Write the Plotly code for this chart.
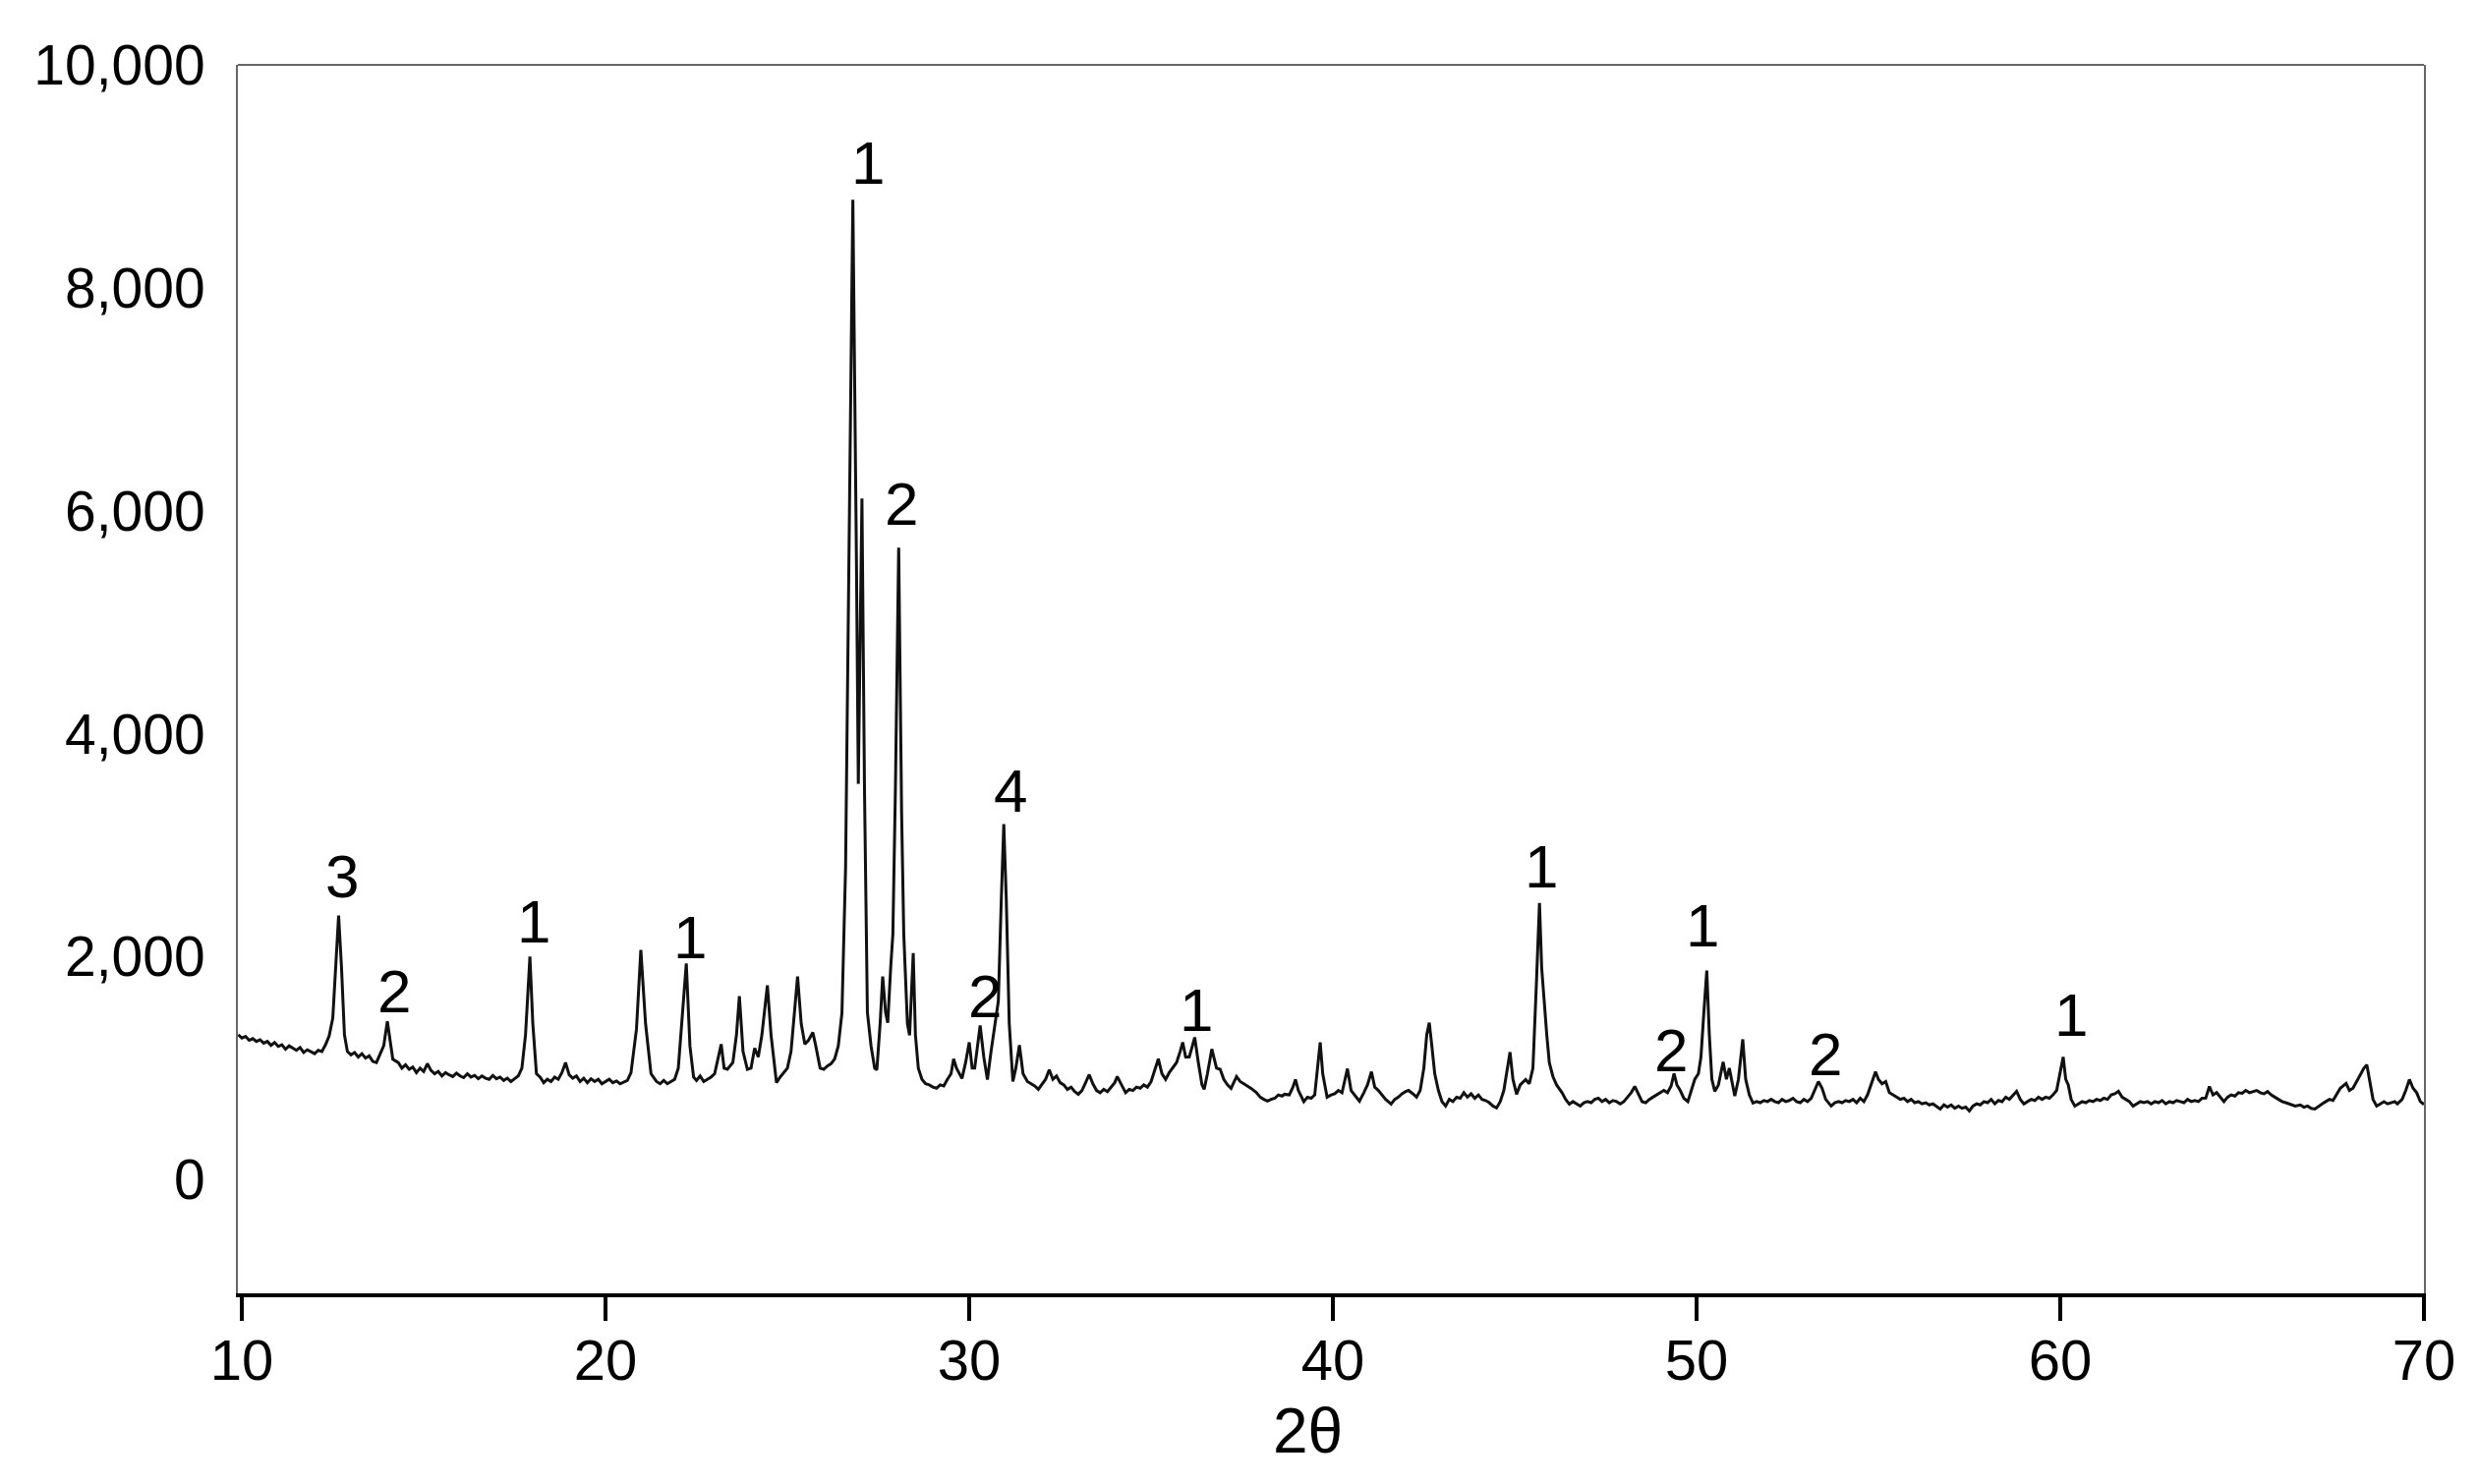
import plotly.graph_objects as go

# XRD pattern, [2theta, counts] pairs, split by range
seg_10_20 = [
    [9.9, 1300], [10.0, 1270], [10.1, 1285], [10.2, 1250], [10.3, 1265], [10.4, 1240],
    [10.5, 1255], [10.6, 1225], [10.7, 1240], [10.8, 1205], [10.9, 1230], [11.0, 1195],
    [11.1, 1210], [11.2, 1170], [11.3, 1200], [11.4, 1180], [11.5, 1160], [11.6, 1185],
    [11.7, 1140], [11.8, 1165], [11.9, 1150], [12.0, 1130], [12.1, 1160], [12.2, 1150],
    [12.3, 1210], [12.4, 1290], [12.5, 1450], [12.58, 1900], [12.66, 2370], [12.74, 1900],
    [12.82, 1300], [12.9, 1150], [13.0, 1120], [13.1, 1140], [13.2, 1100], [13.3, 1130],
    [13.4, 1090], [13.5, 1110], [13.6, 1060], [13.7, 1050], [13.8, 1120], [13.9, 1200],
    [14.0, 1420], [14.08, 1250], [14.15, 1080], [14.3, 1050], [14.4, 1000], [14.5, 1030],
    [14.6, 990], [14.7, 1010], [14.8, 960], [14.9, 1000], [15.0, 970], [15.1, 1040],
    [15.2, 980], [15.3, 950], [15.4, 970], [15.5, 930], [15.6, 960], [15.7, 940],
    [15.8, 925], [15.9, 955], [16.0, 930], [16.1, 915], [16.2, 950], [16.3, 920],
    [16.4, 935], [16.5, 905], [16.6, 930], [16.7, 910], [16.8, 900], [16.9, 935],
    [17.0, 905], [17.1, 920], [17.2, 890], [17.3, 910], [17.4, 880], [17.5, 905],
    [17.6, 930], [17.7, 1000], [17.8, 1300], [17.92, 2000], [18.0, 1400], [18.1, 950],
    [18.2, 920], [18.3, 870], [18.4, 900], [18.5, 880], [18.6, 920], [18.7, 900],
    [18.8, 960], [18.9, 1050], [19.0, 940], [19.1, 910], [19.2, 930], [19.3, 880],
    [19.4, 910], [19.5, 870], [19.6, 905], [19.7, 880], [19.8, 900], [19.9, 860],
]
seg_20_30 = [
    [20.0, 880], [20.1, 900], [20.2, 870], [20.3, 885], [20.4, 860], [20.5, 875],
    [20.6, 890], [20.7, 960], [20.85, 1350], [20.97, 2060], [21.1, 1400], [21.25, 950],
    [21.4, 880], [21.5, 860], [21.6, 890], [21.7, 860], [21.8, 880], [21.9, 900],
    [22.0, 1000], [22.1, 1400], [22.22, 1940], [22.32, 1200], [22.42, 920], [22.5, 890],
    [22.6, 930], [22.7, 880], [22.8, 900], [22.9, 920], [23.0, 950], [23.1, 1100],
    [23.18, 1215], [23.26, 1000], [23.35, 990], [23.5, 1050], [23.6, 1300], [23.68, 1646],
    [23.78, 1150], [23.9, 990], [24.0, 1000], [24.1, 1180], [24.2, 1100], [24.3, 1300],
    [24.45, 1743], [24.55, 1300], [24.7, 870], [24.8, 920], [24.9, 960], [25.0, 1000],
    [25.1, 1150], [25.2, 1500], [25.28, 1822], [25.38, 1400], [25.48, 1215], [25.58, 1250],
    [25.7, 1320], [25.78, 1200], [25.9, 1000], [26.0, 990], [26.1, 1020], [26.2, 1040],
    [26.3, 1083], [26.4, 1200], [26.5, 1496], [26.6, 2800], [26.7, 6000], [26.8, 8790],
    [26.9, 5500], [26.95, 3550], [27.05, 6110], [27.12, 3500], [27.2, 1500], [27.3, 1200],
    [27.4, 1000], [27.46, 985], [27.55, 1400], [27.62, 1822], [27.7, 1500], [27.76, 1408],
    [27.84, 1900], [27.9, 2200], [27.97, 3500], [28.06, 5670], [28.14, 3300], [28.2, 2200],
    [28.3, 1400], [28.36, 1294], [28.46, 2033], [28.52, 1300], [28.6, 1000], [28.7, 900],
    [28.8, 860], [28.9, 850], [29.0, 830], [29.1, 820], [29.2, 850], [29.3, 840],
    [29.4, 900], [29.5, 950], [29.57, 1083], [29.65, 1000], [29.8, 907], [29.9, 1050],
]
seg_30_40 = [
    [30.0, 1232], [30.08, 1000], [30.15, 1000], [30.3, 1382], [30.4, 1100], [30.5, 898],
    [30.6, 1150], [30.7, 1382], [30.8, 1600], [30.88, 2500], [30.95, 3190], [31.02, 2500],
    [31.1, 1400], [31.2, 880], [31.28, 1000], [31.38, 1206], [31.48, 950], [31.6, 880],
    [31.7, 860], [31.8, 840], [31.9, 810], [32.0, 860], [32.1, 900], [32.2, 985],
    [32.3, 900], [32.4, 930], [32.5, 870], [32.6, 850], [32.7, 810], [32.8, 830],
    [32.9, 790], [33.0, 766], [33.1, 800], [33.2, 870], [33.3, 942], [33.4, 860],
    [33.5, 800], [33.6, 780], [33.7, 810], [33.8, 790], [33.9, 830], [34.0, 870],
    [34.07, 925], [34.15, 870], [34.3, 780], [34.4, 810], [34.5, 800], [34.6, 830],
    [34.7, 820], [34.8, 850], [34.9, 830], [35.0, 880], [35.1, 980], [35.2, 1083],
    [35.3, 950], [35.4, 900], [35.5, 960], [35.6, 1000], [35.7, 1050], [35.8, 1150],
    [35.87, 1232], [35.95, 1100], [36.05, 1100], [36.12, 1180], [36.2, 1276], [36.3, 1050],
    [36.4, 850], [36.46, 810], [36.55, 950], [36.67, 1171], [36.8, 1000], [36.9, 990],
    [37.0, 900], [37.1, 850], [37.2, 819], [37.35, 924], [37.45, 880], [37.55, 860],
    [37.65, 840], [37.75, 819], [37.9, 780], [38.0, 740], [38.1, 720], [38.2, 704],
    [38.3, 720], [38.4, 730], [38.5, 760], [38.6, 750], [38.67, 766], [38.8, 760],
    [38.9, 830], [38.97, 898], [39.05, 800], [39.2, 700], [39.3, 740], [39.4, 730],
    [39.5, 760], [39.57, 1000], [39.65, 1232], [39.72, 950], [39.84, 740], [39.95, 760],
]
seg_40_50 = [
    [40.05, 770], [40.15, 800], [40.25, 780], [40.32, 880], [40.4, 995], [40.5, 800],
    [40.6, 760], [40.73, 704], [40.85, 780], [40.95, 850], [41.06, 968], [41.15, 830],
    [41.25, 800], [41.35, 760], [41.45, 720], [41.6, 678], [41.7, 720], [41.8, 740],
    [41.9, 770], [42.0, 790], [42.08, 800], [42.2, 770], [42.3, 740], [42.4, 800],
    [42.5, 1000], [42.58, 1300], [42.65, 1408], [42.72, 1200], [42.8, 950], [42.9, 800],
    [43.0, 700], [43.1, 660], [43.2, 720], [43.3, 700], [43.4, 740], [43.5, 730],
    [43.6, 780], [43.7, 740], [43.8, 770], [43.9, 730], [44.0, 760], [44.1, 720],
    [44.2, 710], [44.3, 690], [44.4, 660], [44.5, 643], [44.6, 700], [44.7, 800],
    [44.8, 1000], [44.87, 1144], [44.95, 900], [45.05, 766], [45.15, 850], [45.3, 898],
    [45.4, 860], [45.5, 1000], [45.6, 1800], [45.68, 2482], [45.74, 1900], [45.8, 1628],
    [45.88, 1300], [45.95, 1050], [46.05, 924], [46.15, 850], [46.3, 780], [46.4, 720],
    [46.5, 678], [46.6, 700], [46.7, 680], [46.8, 660], [46.9, 690], [47.0, 700],
    [47.1, 690], [47.2, 720], [47.3, 730], [47.4, 700], [47.5, 720], [47.6, 690],
    [47.7, 710], [47.8, 700], [47.9, 680], [48.0, 700], [48.1, 740], [48.2, 780],
    [48.3, 836], [48.4, 760], [48.5, 700], [48.6, 690], [48.7, 720], [48.8, 740],
    [48.9, 760], [49.0, 780], [49.1, 800], [49.2, 780], [49.3, 840], [49.38, 951],
    [49.46, 850], [49.55, 800], [49.65, 730], [49.76, 700], [49.85, 790], [49.95, 900],
]
seg_50_60 = [
    [50.05, 950], [50.12, 1100], [50.2, 1500], [50.28, 1875], [50.35, 1300], [50.42, 900],
    [50.5, 792], [50.6, 850], [50.73, 1056], [50.82, 900], [50.9, 1000], [50.98, 850],
    [51.05, 750], [51.15, 900], [51.27, 1259], [51.35, 900], [51.45, 760], [51.55, 687],
    [51.65, 700], [51.75, 690], [51.85, 710], [51.95, 700], [52.05, 720], [52.15, 700],
    [52.25, 690], [52.35, 720], [52.45, 700], [52.55, 710], [52.65, 730], [52.75, 700],
    [52.85, 690], [52.95, 720], [53.05, 700], [53.15, 730], [53.25, 800], [53.35, 880],
    [53.45, 820], [53.55, 720], [53.7, 660], [53.8, 690], [53.9, 700], [54.0, 690],
    [54.1, 710], [54.2, 700], [54.3, 720], [54.4, 690], [54.5, 730], [54.6, 700],
    [54.7, 760], [54.8, 850], [54.92, 968], [55.0, 900], [55.1, 860], [55.2, 880],
    [55.3, 780], [55.4, 760], [55.5, 740], [55.6, 720], [55.7, 730], [55.8, 700],
    [55.9, 720], [56.0, 690], [56.1, 700], [56.2, 680], [56.3, 690], [56.4, 670],
    [56.5, 680], [56.6, 660], [56.7, 634], [56.8, 670], [56.9, 650], [57.0, 670],
    [57.1, 640], [57.2, 660], [57.3, 640], [57.4, 650], [57.5, 616], [57.6, 660],
    [57.7, 680], [57.8, 670], [57.9, 700], [58.0, 690], [58.1, 720], [58.2, 680],
    [58.3, 710], [58.4, 700], [58.5, 740], [58.6, 720], [58.7, 760], [58.8, 792],
    [58.9, 720], [59.0, 680], [59.1, 700], [59.2, 720], [59.3, 710], [59.4, 740],
    [59.5, 720], [59.6, 740], [59.7, 730], [59.8, 760], [59.9, 800],
]
seg_60_70 = [
    [60.0, 950], [60.08, 1100], [60.15, 900], [60.22, 850], [60.3, 720], [60.4, 660],
    [60.5, 680], [60.6, 700], [60.7, 690], [60.8, 710], [60.9, 700], [61.0, 720],
    [61.1, 710], [61.2, 730], [61.3, 720], [61.4, 760], [61.5, 770], [61.6, 792],
    [61.7, 740], [61.8, 720], [61.9, 700], [62.0, 660], [62.1, 680], [62.2, 700],
    [62.3, 690], [62.4, 700], [62.5, 680], [62.6, 700], [62.7, 690], [62.8, 710],
    [62.9, 680], [63.0, 700], [63.1, 690], [63.2, 710], [63.3, 700], [63.4, 690],
    [63.5, 720], [63.6, 700], [63.7, 710], [63.8, 700], [63.9, 730], [64.0, 731],
    [64.1, 836], [64.2, 760], [64.3, 780], [64.4, 740], [64.5, 700], [64.6, 740],
    [64.7, 760], [64.8, 750], [64.9, 780], [65.0, 775], [65.1, 800], [65.2, 780],
    [65.3, 790], [65.4, 800], [65.5, 780], [65.6, 770], [65.7, 790], [65.8, 760],
    [65.9, 740], [66.0, 720], [66.1, 700], [66.2, 690], [66.3, 680], [66.46, 660],
    [66.6, 670], [66.7, 650], [66.8, 660], [66.9, 640], [67.0, 634], [67.1, 660],
    [67.2, 680], [67.3, 700], [67.4, 720], [67.5, 710], [67.6, 760], [67.7, 820],
    [67.86, 863], [67.95, 800], [68.05, 820], [68.15, 880], [68.25, 950], [68.35, 1000],
    [68.43, 1030], [68.5, 900], [68.6, 720], [68.7, 660], [68.8, 680], [68.9, 700],
    [69.0, 680], [69.1, 690], [69.2, 700], [69.27, 680], [69.4, 720], [69.5, 800],
    [69.6, 898], [69.7, 820], [69.8, 780], [69.9, 700], [70.0, 675],
]

# phase labels above the peaks
label_text = ["3", "2", "1", "1", "1", "2", "2", "4", "1", "1", "2", "1", "2", "1"]
label_x = [12.76, 14.19, 18.03, 22.32, 27.22, 28.14, 30.43, 31.14, 36.24, 45.73, 49.3, 50.16, 53.54, 60.3]
label_y = [2720, 1690, 2315, 2174, 9120, 6065, 1647, 3486, 1523, 2808, 1162, 2280, 1127, 1479]

x_ticks = [10, 20, 30, 40, 50, 60, 70]
y_ticks = [0, 2000, 4000, 6000, 8000, 10000]

pattern = seg_10_20 + seg_20_30 + seg_30_40 + seg_40_50 + seg_50_60 + seg_60_70
two_theta = [p[0] for p in pattern]
counts = [p[1] for p in pattern]

font = "Liberation Sans, Arial, sans-serif"

fig = go.Figure()
fig.add_trace(go.Scatter(
    x=two_theta, y=counts, mode="lines",
    line=dict(color="#111111", width=3),
    showlegend=False, hoverinfo="skip",
))

for t, lx, ly in zip(label_text, label_x, label_y):
    fig.add_annotation(x=lx, y=ly, text=t, showarrow=False,
                       xanchor="center", yanchor="middle",
                       font=dict(family=font, size=62, color="black"))

# axis title as annotation so it sits where the original has it
fig.add_annotation(x=39.3, xref="x", y=-0.112, yref="paper", text="2θ",
                   showarrow=False, xanchor="center", yanchor="middle",
                   font=dict(family=font, size=64, color="black"))

# thin top frame line
fig.add_shape(type="line", xref="paper", yref="paper", x0=0, x1=1, y0=1, y1=1,
              line=dict(color="#666666", width=2))

# page body adds an 8px offset, so the figure is 8px smaller and margins shifted
fig.update_layout(
    width=2514, height=1502,
    margin=dict(l=234, r=56, t=58, b=194),
    paper_bgcolor="white", plot_bgcolor="white",
    font=dict(family=font, color="black"),
)
fig.update_xaxes(
    range=[9.89, 70.0], tickvals=x_ticks,
    showline=True, linecolor="black", linewidth=4,
    ticks="outside", ticklen=24, tickwidth=4, tickcolor="black",
    ticklabelstandoff=-10,
    showgrid=False, zeroline=False,
    tickfont=dict(family=font, size=58, color="black"),
)
fig.update_yaxes(
    range=[-1020, 10000], tickvals=y_ticks, tickformat=",d",
    showline=True, linecolor="#666666", linewidth=2, mirror=True,
    ticks="", ticklabelstandoff=20,
    showgrid=False, zeroline=False,
    tickfont=dict(family=font, size=57, color="black"),
)

fig.write_html("out.html")
